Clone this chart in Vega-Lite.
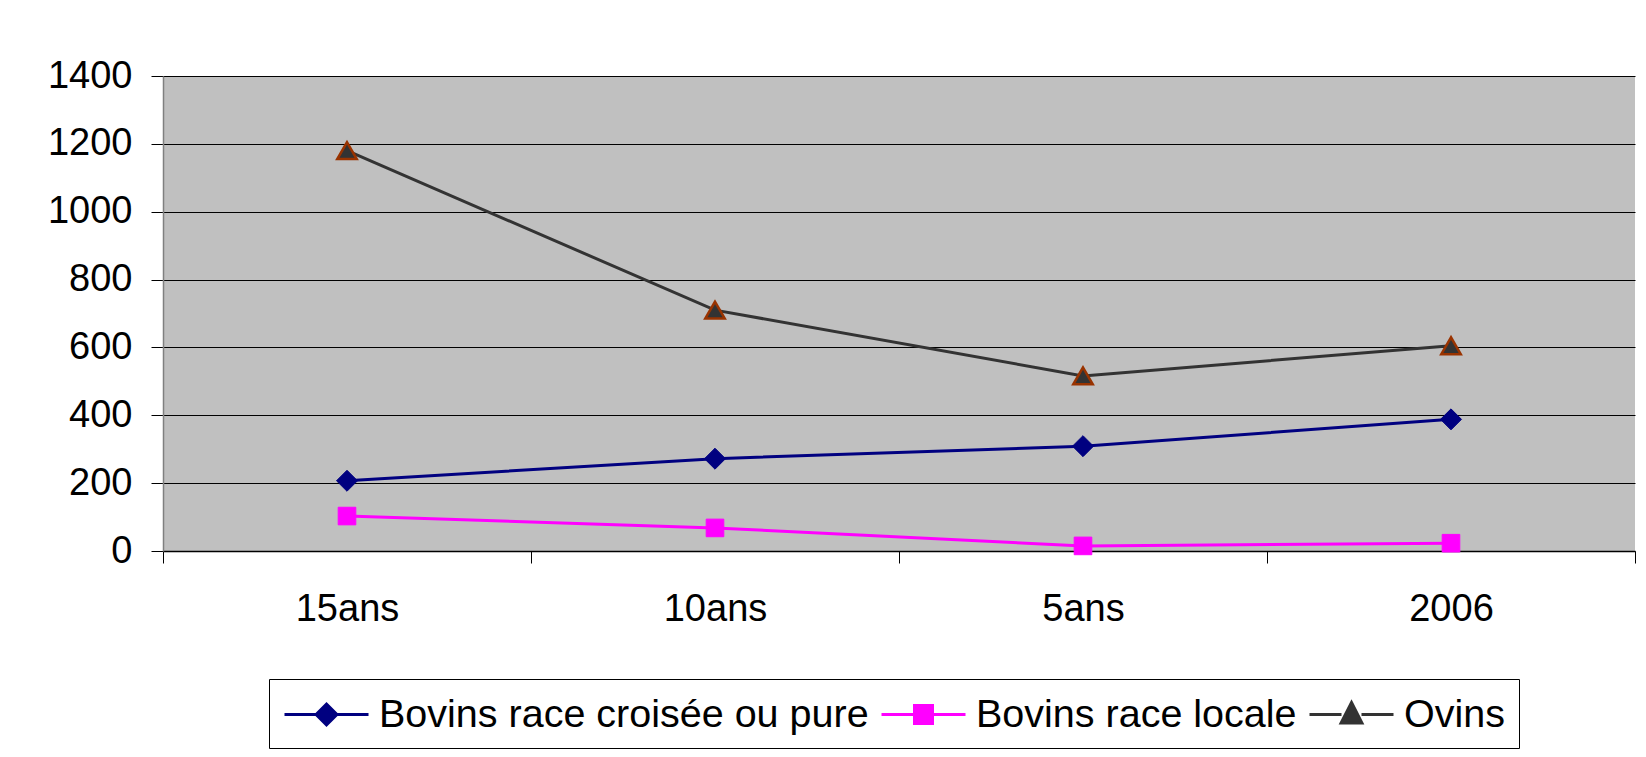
{
  "$schema": "https://vega.github.io/schema/vega-lite/v6.json",
  "width": 1472,
  "height": 475,
  "autosize": {"type": "none"},
  "padding": {"left": 163, "top": 76, "right": 11, "bottom": 206},
  "background": "white",
  "config": {
    "font": "Liberation Sans",
    "view": {"fill": "#C0C0C0", "stroke": null}
  },
  "data": {
    "values": [
      {"periode": "15ans", "serie": "Bovins race croisée ou pure", "valeur": 207},
      {"periode": "10ans", "serie": "Bovins race croisée ou pure", "valeur": 272},
      {"periode": "5ans", "serie": "Bovins race croisée ou pure", "valeur": 309},
      {"periode": "2006", "serie": "Bovins race croisée ou pure", "valeur": 388},
      {"periode": "15ans", "serie": "Bovins race locale", "valeur": 103},
      {"periode": "10ans", "serie": "Bovins race locale", "valeur": 68},
      {"periode": "5ans", "serie": "Bovins race locale", "valeur": 15},
      {"periode": "2006", "serie": "Bovins race locale", "valeur": 23},
      {"periode": "15ans", "serie": "Ovins", "valeur": 1180},
      {"periode": "10ans", "serie": "Ovins", "valeur": 710},
      {"periode": "5ans", "serie": "Ovins", "valeur": 516},
      {"periode": "2006", "serie": "Ovins", "valeur": 605}
    ]
  },
  "encoding": {
    "x": {
      "field": "periode",
      "type": "nominal",
      "sort": ["15ans", "10ans", "5ans", "2006"],
      "bandPosition": 0.5,
      "scale": {"type": "band", "paddingInner": 0, "paddingOuter": 0},
      "axis": {
        "title": null,
        "labelAngle": 0,
        "labelFontSize": 38,
        "labelColor": "black",
        "labelPadding": 27,
        "tickBand": "extent",
        "tickSize": 12,
        "tickColor": "black",
        "tickWidth": 1,
        "domainColor": "black",
        "domainWidth": 1.5,
        "grid": false
      }
    },
    "y": {
      "field": "valeur",
      "type": "quantitative",
      "scale": {"domain": [0, 1400], "nice": false, "zero": true},
      "axis": {
        "title": null,
        "values": [0, 200, 400, 600, 800, 1000, 1200, 1400],
        "format": "d",
        "labelFontSize": 38,
        "labelColor": "black",
        "labelPadding": 19,
        "tickSize": 12,
        "tickColor": "black",
        "tickWidth": 1,
        "domainColor": "#808080",
        "domainWidth": 1.5,
        "grid": true,
        "gridColor": "black",
        "gridWidth": 1,
        "gridOpacity": 1
      }
    }
  },
  "layer": [
    {
      "mark": {"type": "line", "strokeWidth": 3},
      "encoding": {
        "color": {
          "field": "serie",
          "type": "nominal",
          "scale": {
            "domain": ["Bovins race croisée ou pure", "Bovins race locale", "Ovins"],
            "range": ["#000080", "#FF00FF", "#333333"]
          },
          "legend": {
            "title": null,
            "orient": "none",
            "legendX": 106,
            "legendY": 603,
            "direction": "horizontal",
            "columns": 3,
            "padding": 14,
            "strokeColor": "black",
            "fillColor": "white",
            "labelFontSize": 39.5,
            "labelColor": "black",
            "labelFont": "Liberation Sans",
            "labelLimit": 1000,
            "symbolSize": 1600,
            "symbolStrokeWidth": 3,
            "symbolOffset": 22,
            "labelOffset": 31,
            "columnPadding": 6,
            "encode": {
              "symbols": {
                "update": {
                  "shape": {"signal": "datum.value === 'Ovins' ? 'M-2.1,0L-0.5,0M0.5,0L2.1,0M0,-0.6L0.52,0.42L-0.52,0.42Z' : datum.value === 'Bovins race locale' ? 'M-2.1,0L2.1,0M-0.45,-0.45L0.45,-0.45L0.45,0.45L-0.45,0.45Z' : 'M-2.1,0L2.1,0M-0.52,0L0,-0.52L0.52,0L0,0.52Z'"},
                  "stroke": {"signal": "datum.value === 'Ovins' ? '#333333' : datum.value === 'Bovins race locale' ? '#FF00FF' : '#000080'"},
                  "fill": {"signal": "datum.value === 'Ovins' ? '#333333' : datum.value === 'Bovins race locale' ? '#FF00FF' : '#000080'"},
                  "strokeWidth": {"value": 3},
                  "opacity": {"value": 1}
                }
              }
            }
          }
        }
      }
    },
    {
      "transform": [{"filter": {"field": "serie", "equal": "Bovins race croisée ou pure"}}],
      "mark": {"type": "point", "shape": "diamond", "filled": true, "opacity": 1, "fill": "#000080", "stroke": "#000080", "strokeWidth": 1, "size": 440}
    },
    {
      "transform": [{"filter": {"field": "serie", "equal": "Bovins race locale"}}],
      "mark": {"type": "point", "shape": "square", "filled": true, "opacity": 1, "fill": "#FF00FF", "stroke": "#FF00FF", "strokeWidth": 1, "size": 310}
    },
    {
      "transform": [{"filter": {"field": "serie", "equal": "Ovins"}}],
      "mark": {"type": "point", "shape": "triangle-up", "filled": true, "opacity": 1, "fill": "#333333", "stroke": "#993300", "strokeWidth": 2.5, "size": 380}
    }
  ]
}
